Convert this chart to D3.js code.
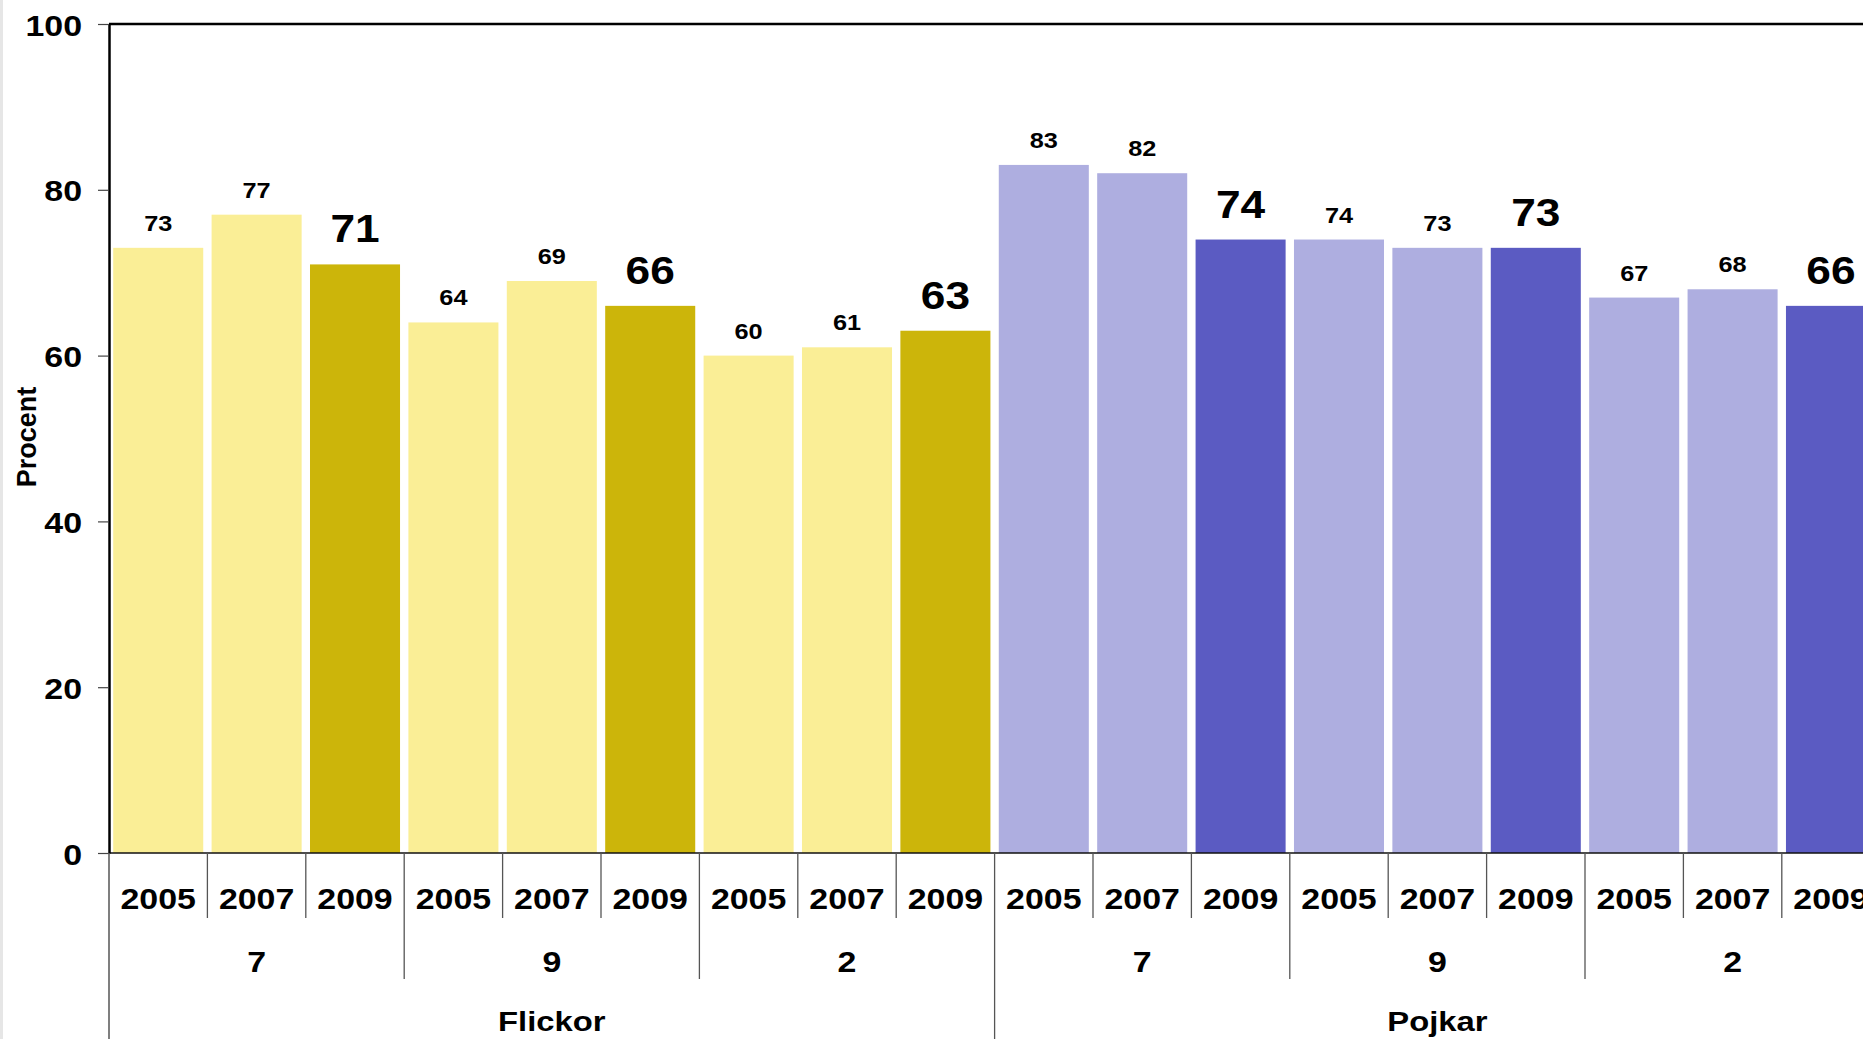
<!DOCTYPE html>
<html>
<head>
<meta charset="utf-8">
<script src="https://cdn.jsdelivr.net/npm/d3@7"></script>
<style>
html,body{margin:0;padding:0;background:#fff;overflow:hidden;}
svg{display:block;}
text{font-family:"Liberation Sans",Arial,sans-serif;font-weight:bold;fill:#000;}
</style>
</head>
<body>
<svg id="chart" width="1863" height="1039"></svg>
<script>
// ---- data ----
const genders = ["Flickor", "Pojkar"];
const grades = ["7", "9", "2"];
const years = ["2005", "2007", "2009"];
const flickorValues = [73, 77, 71, 64, 69, 66, 60, 61, 63];
const pojkarValues = [83, 82, 74, 74, 73, 73, 67, 68, 66];
const yTicks = [0, 20, 40, 60, 80, 100];
const yLabel = "Procent";

// ---- build rows ----
const rows = [];
genders.forEach((g, gi) => {
  const vals = gi === 0 ? flickorValues : pojkarValues;
  grades.forEach((gr, ri) => {
    years.forEach((yr, yi) => {
      const idx = ri * 3 + yi;
      rows.push({ key: g + "|" + gr + "|" + yr, gender: g, gi, grade: gr, year: yr, value: vals[idx], latest: yi === 2 });
    });
  });
});

const svg = d3.select("#chart");
const W = 1863, H = 1039;
const leftX = 109, topY = 24, zeroY = 853;
const step = 98.4;
const SX = 1.15;

// left grey strip
svg.append("rect").attr("x", 0).attr("y", 0).attr("width", 3).attr("height", H).attr("fill", "#e6e6e6");

const x = d3.scaleBand()
  .domain(rows.map(d => d.key))
  .range([leftX, leftX + rows.length * step])
  .paddingInner(0.085)
  .paddingOuter(0.0427);

const y = d3.scaleLinear().domain([0, 100]).range([zeroY, topY]);

const colors = {
  Flickor: { light: "#FAEE96", dark: "#CCB50A" },
  Pojkar: { light: "#AEAEE0", dark: "#5B5BC2" }
};

// bars
svg.append("g").selectAll("rect").data(rows).join("rect")
  .attr("x", d => x(d.key))
  .attr("y", d => y(d.value))
  .attr("width", x.bandwidth())
  .attr("height", d => y(0) - y(d.value))
  .attr("fill", d => d.latest ? colors[d.gender].dark : colors[d.gender].light);

// value labels
svg.append("g").selectAll("text").data(rows).join("text")
  .attr("text-anchor", "middle")
  .attr("font-size", d => d.latest ? 38.5 : 22)
  .attr("transform", d => `translate(${x(d.key) + x.bandwidth() / 2},${y(d.value) - (d.latest ? 22 : 17)}) scale(${SX},1)`)
  .text(d => d.value);

// top frame line
svg.append("line").attr("x1", leftX).attr("x2", W).attr("y1", topY).attr("y2", topY)
  .attr("stroke", "#000").attr("stroke-width", 2.5);

// zero line
svg.append("line").attr("x1", leftX).attr("x2", W).attr("y1", zeroY).attr("y2", zeroY)
  .attr("stroke", "#111").attr("stroke-width", 1.6);

// y axis
const yAxis = svg.append("g").attr("transform", `translate(${leftX},0)`)
  .call(d3.axisLeft(y).tickValues(yTicks).tickSize(11).tickSizeOuter(0).tickFormat(d3.format("d")));
yAxis.select(".domain").attr("stroke", "#000").attr("stroke-width", 2.5);
yAxis.selectAll(".tick line").attr("stroke", "#444").attr("stroke-width", 1.2);
yAxis.selectAll(".tick text")
  .attr("x", null).attr("dy", null)
  .attr("font-size", 29.5)
  .attr("font-family", "Liberation Sans, Arial, sans-serif")
  .attr("font-weight", "bold")
  .attr("fill", "#000")
  .attr("transform", `translate(-27,11) scale(${SX},1)`);
// extend axis line to bottom
svg.append("line").attr("x1", leftX).attr("x2", leftX).attr("y1", zeroY).attr("y2", H)
  .attr("stroke", "#555").attr("stroke-width", 1.5);

// y label
svg.append("text")
  .attr("text-anchor", "middle")
  .attr("font-size", 27)
  .attr("transform", `translate(36,437) rotate(-90)`)
  .text(yLabel);

// category separators
const sepG = svg.append("g");
d3.range(1, rows.length + 1).forEach(i => {
  const xx = leftX + i * step;
  let y2 = 918;
  if (i % 9 === 0) y2 = H;
  else if (i % 3 === 0) y2 = 979;
  sepG.append("line").attr("x1", xx).attr("x2", xx).attr("y1", zeroY).attr("y2", y2)
    .attr("stroke", "#555").attr("stroke-width", 1.3);
});

// year labels
svg.append("g").selectAll("text").data(rows).join("text")
  .attr("text-anchor", "middle")
  .attr("font-size", 29.5)
  .attr("transform", d => `translate(${x(d.key) + x.bandwidth() / 2},909) scale(${SX},1)`)
  .text(d => d.year);

// grade labels
const gradeRows = [];
genders.forEach(g => grades.forEach(gr => gradeRows.push({ g, gr })));
svg.append("g").selectAll("text").data(gradeRows).join("text")
  .attr("text-anchor", "middle")
  .attr("font-size", 29.5)
  .attr("transform", d => {
    const k1 = x(d.g + "|" + d.gr + "|" + years[0]);
    const k3 = x(d.g + "|" + d.gr + "|" + years[2]) + x.bandwidth();
    return `translate(${(k1 + k3) / 2},972) scale(${SX},1)`;
  })
  .text(d => d.gr);

// gender labels
svg.append("g").selectAll("text").data(genders).join("text")
  .attr("text-anchor", "middle")
  .attr("font-size", 28.5)
  .attr("transform", (g, i) => `translate(${leftX + (i * 9 + 4.5) * step},1031) scale(${SX},1)`)
  .text(g => g);
</script>
</body>
</html>
